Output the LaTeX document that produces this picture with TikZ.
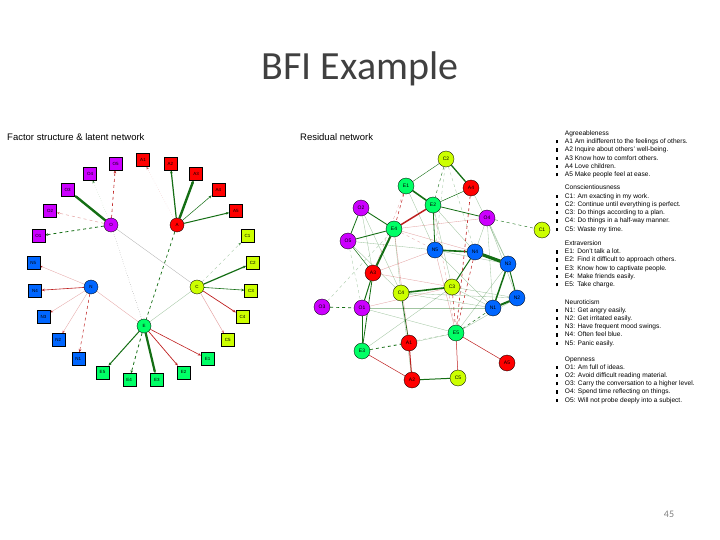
\documentclass[tikz,border=0pt]{standalone}
\usepackage{fontspec}
\setmainfont{Liberation Sans}
\newfontfamily\slidefont{Carlito}
\usepackage{tikz}
\usetikzlibrary{arrows.meta,backgrounds}
\definecolor{grpA}{HTML}{FF0000}
\definecolor{grpC}{HTML}{CCFF00}
\definecolor{grpE}{HTML}{00FF66}
\definecolor{grpN}{HTML}{0066FF}
\definecolor{grpO}{HTML}{CC00FF}
\definecolor{posc}{RGB}{20,110,20}
\definecolor{negc}{RGB}{190,30,30}
\definecolor{slidegray}{RGB}{64,64,64}
\tikzset{
  ind/.style={rectangle,draw=black,line width=0.35pt,minimum size=13pt,inner sep=0pt,font=\fontsize{4.5}{5}\selectfont},
  lat/.style={circle,draw=black,line width=0.35pt,minimum size=14pt,inner sep=0pt,font=\fontsize{4.5}{5}\selectfont},
  res/.style={circle,draw=black,line width=0.35pt,minimum size=16pt,inner sep=0pt,font=\fontsize{5}{5}\selectfont},
  ld/.style={-{Stealth[length=3.2pt,width=2.6pt]}},
  pe/.style={draw=posc},
  ne/.style={draw=negc},
  fnt/.style={draw opacity=0.4,line width=0.35pt},
  ttl/.style={anchor=west,inner sep=0pt,font=\fontsize{9.5}{10}\selectfont},
  leg/.style={anchor=base west,inner sep=0pt,font=\fontsize{6.6}{8.2}\selectfont}
}
\newcommand{\bul}{\rule[0.2pt]{2.2pt}{3.2pt}}

\begin{document}
\begin{tikzpicture}[x=1pt,y=-1pt]
\useasboundingbox (0,0) rectangle (720,540);
\node[font=\slidefont\fontsize{40}{40}\selectfont,text=slidegray,anchor=base] (title) at (360,80) {BFI Example};
\node[font=\slidefont\fontsize{10}{10}\selectfont,text=gray] (pgno) at (669,514) {45};
\node[ttl] (lhead) at (7,137) {Factor structure \& latent network};
\node[ttl] (rhead) at (300,137) {Residual network};

% factor structure
\node[lat,fill=grpO] (lO) at (111,225) {O};
\node[lat,fill=grpA] (lA) at (177,225) {A};
\node[lat,fill=grpN] (lN) at (91,287) {N};
\node[lat,fill=grpC] (lC) at (197,287) {C};
\node[lat,fill=grpE] (lE) at (144,326) {E};
\node[ind,fill=grpA] (A1) at (143,160) {A1};
\node[ind,fill=grpA] (A2) at (170.4,163.5) {A2};
\node[ind,fill=grpA] (A3) at (196,173.6) {A3};
\node[ind,fill=grpA] (A4) at (218.3,189.8) {A4};
\node[ind,fill=grpA] (A5) at (235.9,211.1) {A5};
\node[ind,fill=grpC] (C1) at (247.6,236) {C1};
\node[ind,fill=grpC] (C2) at (252.8,263.1) {C2};
\node[ind,fill=grpC] (C3) at (251.1,290.6) {C3};
\node[ind,fill=grpC] (C4) at (242.5,316.8) {C4};
\node[ind,fill=grpC] (C5) at (227.8,340.1) {C5};
\node[ind,fill=grpE] (E1) at (207.7,359) {E1};
\node[ind,fill=grpE] (E2) at (183.5,372.3) {E2};
\node[ind,fill=grpE] (E3) at (156.8,380) {E3};
\node[ind,fill=grpE] (E4) at (129.2,380) {E4};
\node[ind,fill=grpE] (E5) at (102.5,372.3) {E5};
\node[ind,fill=grpN] (N1) at (78.3,359) {N1};
\node[ind,fill=grpN] (N2) at (58.2,340.1) {N2};
\node[ind,fill=grpN] (N3) at (43.5,316.8) {N3};
\node[ind,fill=grpN] (N4) at (34.9,290.6) {N4};
\node[ind,fill=grpN] (N5) at (33.2,263.1) {N5};
\node[ind,fill=grpO] (O1) at (38.4,236) {O1};
\node[ind,fill=grpO] (O2) at (50.1,211.1) {O2};
\node[ind,fill=grpO] (O3) at (67.7,189.8) {O3};
\node[ind,fill=grpO] (O4) at (90,173.6) {O4};
\node[ind,fill=grpO] (O5) at (115.6,163.5) {O5};

% residual network
\node[res,fill=grpC] (rC2) at (446,159) {C2};
\node[res,fill=grpE] (rE1) at (406,186) {E1};
\node[res,fill=grpA] (rA4) at (471,188) {A4};
\node[res,fill=grpE] (rE2) at (433,205) {E2};
\node[res,fill=grpO] (rO2) at (361,208) {O2};
\node[res,fill=grpO] (rO4) at (487,218) {O4};
\node[res,fill=grpC] (rC1) at (542,230) {C1};
\node[res,fill=grpE] (rE4) at (394,229) {E4};
\node[res,fill=grpO] (rO5) at (348,241) {O5};
\node[res,fill=grpN] (rN5) at (435,250) {N5};
\node[res,fill=grpN] (rN4) at (475,252) {N4};
\node[res,fill=grpN] (rN3) at (508,264) {N3};
\node[res,fill=grpA] (rA3) at (373,273) {A3};
\node[res,fill=grpC] (rC3) at (452,287) {C3};
\node[res,fill=grpC] (rC4) at (401,293) {C4};
\node[res,fill=grpN] (rN2) at (517,298) {N2};
\node[res,fill=grpN] (rN1) at (493,308) {N1};
\node[res,fill=grpO] (rO3) at (322,307) {O3};
\node[res,fill=grpO] (rO1) at (362,308) {O1};
\node[res,fill=grpE] (rE5) at (456,333) {E5};
\node[res,fill=grpA] (rA1) at (409,343) {A1};
\node[res,fill=grpE] (rE3) at (362,351) {E3};
\node[res,fill=grpA] (rA5) at (507,363) {A5};
\node[res,fill=grpA] (rA2) at (412,380) {A2};
\node[res,fill=grpC] (rC5) at (458,378) {C5};

\begin{scope}[on background layer]
\draw[ld,pe,line width=0.8pt,dashed] (lO) -- (O1);
\draw[ld,ne,fnt,line width=0.5pt,dashed] (lO) -- (O2);
\draw[ld,pe,line width=2.4pt] (lO) -- (O3);
\draw[ld,pe,fnt,dotted] (lO) -- (O4);
\draw[ld,ne,line width=0.6pt,dashed] (lO) -- (O5);
\draw[ld,ne,fnt,dotted] (lA) -- (A1);
\draw[ld,pe,line width=1.2pt] (lA) -- (A2);
\draw[ld,pe,line width=2.4pt] (lA) -- (A3);
\draw[ld,pe,line width=0.5pt] (lA) -- (A4);
\draw[ld,pe,line width=1pt] (lA) -- (A5);
\draw[ld,pe,fnt,dashed] (lC) -- (C1);
\draw[ld,pe,line width=1.2pt] (lC) -- (C2);
\draw[ld,pe,line width=0.6pt] (lC) -- (C3);
\draw[ld,ne,line width=0.7pt] (lC) -- (C4);
\draw[ld,ne,fnt,line width=0.5pt] (lC) -- (C5);
\draw[ld,ne,line width=0.6pt] (lE) -- (E1);
\draw[ld,ne,line width=0.7pt] (lE) -- (E2);
\draw[ld,pe,line width=2.2pt] (lE) -- (E3);
\draw[ld,pe,line width=0.8pt,dashed] (lE) -- (E4);
\draw[ld,pe,line width=1pt] (lE) -- (E5);
\draw[ld,ne,line width=0.5pt,dashed] (lN) -- (N1);
\draw[ld,ne,fnt] (lN) -- (N2);
\draw[ld,ne,fnt] (lN) -- (N3);
\draw[ld,ne,line width=0.6pt] (lN) -- (N4);
\draw[ld,ne,fnt] (lN) -- (N5);
\draw[gray,line width=0.4pt,dotted] (lO) -- (lE);
\draw[pe,line width=0.7pt,dashed] (lA) -- (lE);
\draw[gray!60,line width=0.35pt] (lO) -- (lC);
\draw[ne,fnt] (lN) -- (lE);
\draw[pe,fnt] (lC) -- (lE);

\draw[pe,line width=1.6pt] (rE1) -- (rE2);
\draw[ne,line width=1.5pt] (rE2) -- (rE4);
\draw[pe,line width=2pt] (rE4) -- (rA3);
\draw[pe,line width=1.6pt] (rN5) -- (rN4);
\draw[pe,line width=3.2pt] (rN4) -- (rN3);
\draw[pe,line width=1.5pt] (rN3) -- (rN1);
\draw[pe,line width=2pt] (rN1) -- (rN2);
\draw[pe,line width=1pt] (rN3) -- (rN2);
\draw[pe,line width=1.6pt] (rC4) -- (rC3);
\draw[pe,line width=1.3pt] (rC2) -- (rA4);
\draw[pe,line width=1pt] (rA2) -- (rC5);
\draw[ne,line width=1pt] (rA1) -- (rA2);
\draw[pe,line width=0.9pt] (rO2) -- (rE4);
\draw[pe,line width=0.8pt] (rO2) -- (rO5);
\draw[pe,line width=0.9pt] (rO5) -- (rE4);
\draw[pe,line width=1pt] (rA3) -- (rO1);
\draw[pe,line width=0.8pt] (rA3) -- (rE3);
\draw[pe,line width=1pt] (rO1) -- (rE3);
\draw[pe,line width=0.8pt] (rE2) -- (rN5);
\draw[pe,line width=0.8pt] (rE2) -- (rO4);
\draw[pe,line width=1pt] (rC3) -- (rN4);
\draw[pe,line width=0.7pt,dashed] (rO3) -- (rO1);
\draw[pe,line width=0.6pt,dashed] (rE3) -- (rA1);
\draw[ne,line width=0.5pt] (rE3) -- (rA2);
\draw[ne,line width=0.5pt] (rE5) -- (rC5);
\draw[ne,line width=0.5pt] (rE5) -- (rA5);
\draw[pe,line width=0.5pt] (rA4) -- (rE2);
\draw[pe,line width=0.4pt] (rC2) -- (rE1);
\draw[pe,line width=0.4pt,dashed] (rO4) -- (rC1);
\draw[ne,line width=0.5pt,dashed] (rE1) -- (rE4);
\draw[ne,line width=0.6pt,dashed] (rA4) -- (rE5);
\draw[ne,line width=0.5pt,dashed] (rN4) -- (rE5);
\draw[ne,line width=0.5pt,dashed] (rC3) -- (rE5);
\draw[pe,line width=0.5pt,dashed] (rE5) -- (rN1);
\draw[pe,line width=0.7pt] (rA1) -- (rC4);
\draw[pe,line width=0.5pt] (rO5) -- (rA3);
\draw[pe,line width=0.4pt,dashed] (rC2) -- (rE2);
\draw[pe,fnt,dashed] (rC2) -- (rN5);
\draw[pe,fnt,dashed] (rC2) -- (rN4);
\draw[ne,fnt,dashed] (rE4) -- (rN5);
\draw[ne,fnt] (rE4) -- (rO4);
\draw[pe,fnt] (rE4) -- (rC4);
\draw[ne,fnt] (rE4) -- (rN4);
\draw[pe,fnt] (rE2) -- (rC3);
\draw[pe,fnt] (rE2) -- (rN4);
\draw[pe,fnt] (rO4) -- (rN4);
\draw[pe,fnt] (rO4) -- (rN3);
\draw[pe,fnt] (rO4) -- (rN1);
\draw[pe,fnt] (rO4) -- (rN2);
\draw[pe,fnt,dashed] (rO5) -- (rO1);
\draw[pe,fnt] (rO5) -- (rC4);
\draw[pe,fnt] (rO5) -- (rN5);
\draw[pe,fnt] (rO2) -- (rA3);
\draw[pe,fnt] (rO2) -- (rC4);
\draw[ne,fnt] (rA3) -- (rN5);
\draw[ne,fnt] (rA3) -- (rC3);
\draw[pe,fnt] (rO1) -- (rE5);
\draw[pe,fnt] (rO1) -- (rN1);
\draw[ne,fnt] (rO1) -- (rC3);
\draw[pe,fnt] (rC4) -- (rN1);
\draw[pe,fnt] (rC4) -- (rN2);
\draw[pe,fnt] (rE3) -- (rC3);
\draw[pe,fnt,dashed] (rE3) -- (rE5);
\draw[pe,fnt] (rA1) -- (rE5);
\draw[pe,fnt] (rA2) -- (rC4);
\draw[pe,fnt] (rE1) -- (rN5);
\draw[ne,fnt,dashed] (rE1) -- (rA3);
\draw[ne,fnt] (rN5) -- (rE5);
\draw[pe,fnt] (rN5) -- (rN1);
\draw[pe,fnt] (rN5) -- (rN3);
\draw[pe,fnt] (rC3) -- (rN1);
\draw[pe,fnt] (rC3) -- (rN2);
\draw[pe,fnt] (rE5) -- (rN2);
\draw[pe,fnt] (rE5) -- (rN3);
\draw[ne,fnt,dashed] (rE2) -- (rE5);
\draw[pe,fnt] (rA4) -- (rN3);
\draw[ne,fnt] (rE4) -- (rA1);
\draw[pe,fnt,dashed] (rO3) -- (rE4);
\end{scope}

% legend
\node[leg] (gA) at (556,135.5) {\begin{tabular}[t]{@{}l@{\hspace{6.5pt}}l@{}}
 & Agreeableness\\
\bul & A1 Am indifferent to the feelings of others.\\
\bul & A2 Inquire about others' well-being.\\
\bul & A3 Know how to comfort others.\\
\bul & A4 Love children.\\
\bul & A5 Make people feel at ease.
\end{tabular}};
\node[leg] (gC) at (556,190) {\begin{tabular}[t]{@{}l@{\hspace{6.5pt}}l@{}}
 & Conscientiousness\\
\bul & C1: Am exacting in my work.\\
\bul & C2: Continue until everything is perfect.\\
\bul & C3: Do things according to a plan.\\
\bul & C4: Do things in a half-way manner.\\
\bul & C5: Waste my time.
\end{tabular}};
\node[leg] (gE) at (556,245.5) {\begin{tabular}[t]{@{}l@{\hspace{6.5pt}}l@{}}
 & Extraversion\\
\bul & E1: Don't talk a lot.\\
\bul & E2: Find it difficult to approach others.\\
\bul & E3: Know how to captivate people.\\
\bul & E4: Make friends easily.\\
\bul & E5: Take charge.
\end{tabular}};
\node[leg] (gN) at (556,304) {\begin{tabular}[t]{@{}l@{\hspace{6.5pt}}l@{}}
 & Neuroticism\\
\bul & N1: Get angry easily.\\
\bul & N2: Get irritated easily.\\
\bul & N3: Have frequent mood swings.\\
\bul & N4: Often feel blue.\\
\bul & N5: Panic easily.
\end{tabular}};
\node[leg] (gO) at (556,361) {\begin{tabular}[t]{@{}l@{\hspace{6.5pt}}l@{}}
 & Openness\\
\bul & O1: Am full of ideas.\\
\bul & O2: Avoid difficult reading material.\\
\bul & O3: Carry the conversation to a higher level.\\
\bul & O4: Spend time reflecting on things.\\
\bul & O5: Will not probe deeply into a subject.
\end{tabular}};
\end{tikzpicture}
\end{document}
